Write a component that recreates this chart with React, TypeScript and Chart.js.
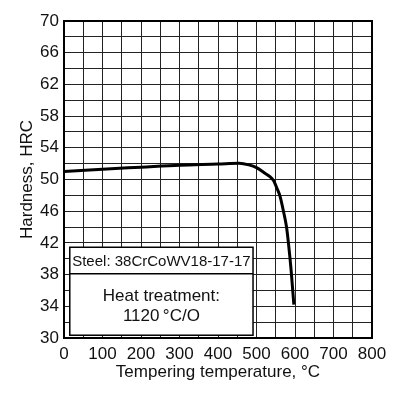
import React, { useEffect, useRef } from "react";
import { Chart, registerables } from "chart.js";

Chart.register(...registerables);

const temperatures = [0, 100, 200, 300, 400, 455, 480, 500, 520, 535, 545, 553, 561, 570, 578, 584, 590, 597];
const hardness = [51, 51.3, 51.55, 51.8, 51.95, 52.05, 51.85, 51.5, 50.85, 50.35, 49.8, 48.9, 47.9, 46, 44, 41.5, 38.5, 34.2];
const steelLabel = "Steel: 38CrCoWV18-17-17";
const treatmentLines = ["Heat treatment:", "1120\u2009\u00B0C/O"];
const xTitle = "Tempering temperature, \u00B0C";
const yTitle = "Hardness, HRC";

const FONT = "'Liberation Sans', Arial, Helvetica, sans-serif";

const boxPlugin = {
  id: "infoBox",
  afterDatasetsDraw(chart: any) {
    const { ctx, scales } = chart;
    const x = scales.x, y = scales.y;
    const left = x.getPixelForValue(15);
    const right = x.getPixelForValue(491);
    const top = y.getPixelForValue(41.45);
    const mid = y.getPixelForValue(38.1);
    const bottom = y.getPixelForValue(30.35);
    ctx.save();
    ctx.fillStyle = "#fff";
    ctx.fillRect(left, top, right - left, bottom - top);
    ctx.strokeStyle = "#000";
    ctx.lineWidth = 1.5;
    ctx.strokeRect(left, top, right - left, bottom - top);
    ctx.beginPath();
    ctx.moveTo(left, mid);
    ctx.lineTo(right, mid);
    ctx.stroke();
    ctx.fillStyle = "#111";
    ctx.textAlign = "center";
    ctx.textBaseline = "middle";
    const cx = (left + right) / 2;
    ctx.font = `15px ${FONT}`;
    ctx.fillText(steelLabel, cx, (top + mid) / 2 + 1);
    ctx.font = `17px ${FONT}`;
    const lh = 20;
    const c = (mid + bottom) / 2;
    ctx.fillText(treatmentLines[0], cx, c - lh / 2 + 2);
    ctx.fillText(treatmentLines[1], cx, c + lh / 2 + 2);
    ctx.restore();
  },
};

const borderPlugin = {
  id: "plotBorder",
  afterDraw(chart: any) {
    const { ctx, chartArea } = chart;
    ctx.save();
    ctx.strokeStyle = "#000";
    ctx.lineWidth = 2;
    ctx.strokeRect(chartArea.left, chartArea.top, chartArea.right - chartArea.left, chartArea.bottom - chartArea.top);
    ctx.restore();
  },
};

export default function App() {
  const ref = useRef<HTMLCanvasElement | null>(null);
  useEffect(() => {
    document.body.style.margin = "0";
    document.body.style.background = "#fff";
    const canvas = ref.current!;
    const chart = new Chart(canvas, {
      type: "line",
      data: {
        datasets: [
          {
            data: temperatures.map((t, i) => ({ x: t, y: hardness[i] })),
            borderColor: "#000",
            borderWidth: 3,
            pointRadius: 0,
            cubicInterpolationMode: "monotone",
            fill: false,
          },
        ],
      },
      options: {
        responsive: false,
        animation: false,
        layout: { padding: { top: 21, right: 46, left: 0, bottom: 0 } },
        plugins: { legend: { display: false }, tooltip: { enabled: false } },
        scales: {
          x: {
            type: "linear",
            min: 0,
            max: 800,
            afterBuildTicks: (s: any) => {
              const t = [];
              for (let v = 0; v <= 800; v += 50) t.push({ value: v });
              s.ticks = t;
            },
            afterFit: (s: any) => { s.height = 61; },
            grid: { color: "#222", lineWidth: 1, drawTicks: false },
            border: { display: false },
            ticks: {
              autoSkip: false,
              maxRotation: 0,
              padding: 6,
              color: "#111",
              font: { family: FONT, size: 17 },
              callback: (v: any) => (v % 100 === 0 ? String(v) : ""),
            },
            title: { display: true, text: xTitle, color: "#111", font: { family: FONT, size: 17 }, padding: { top: 0, bottom: 16 } },
          },
          y: {
            type: "linear",
            min: 30,
            max: 70,
            afterBuildTicks: (s: any) => {
              const t = [];
              for (let v = 30; v <= 70; v += 2) t.push({ value: v });
              s.ticks = t;
            },
            afterFit: (s: any) => { s.width = 64; },
            grid: { color: "#222", lineWidth: 1, drawTicks: false },
            border: { display: false },
            ticks: {
              autoSkip: false,
              padding: 5,
              color: "#111",
              font: { family: FONT, size: 17 },
              callback: (v: any) => ((v - 30) % 4 === 0 ? String(v) : ""),
            },
            title: { display: true, text: yTitle, color: "#111", font: { family: FONT, size: 17 }, padding: { top: 17, bottom: 0 } },
          },
        },
      },
      plugins: [boxPlugin, borderPlugin],
    } as any);
    return () => chart.destroy();
  }, []);
  return (
    <div style={{ width: 418, height: 399 }}>
      <canvas ref={ref} width={418} height={399} style={{ display: "block" }} />
    </div>
  );
}
